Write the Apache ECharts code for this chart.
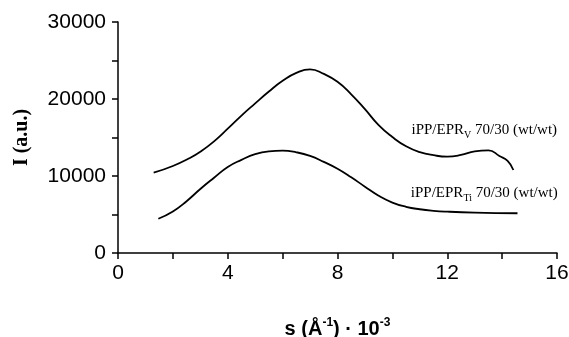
<!DOCTYPE html>
<html>
<head>
<meta charset="utf-8">
<script src="https://cdn.jsdelivr.net/npm/echarts@6/dist/echarts.min.js"></script>
<style>
  html, body { margin: 0; padding: 0; background: #fff; }
  #chart { width: 569px; height: 337px; }
</style>
</head>
<body>
<div id="chart"></div>
<script>
// Scattering profiles I(s) for the two iPP/EPR blends
const sV  = [1.3, 2.0, 2.6, 3.0, 3.5, 4.0, 4.5, 5.0, 5.5, 6.0, 6.5, 7.0, 7.5, 8.0, 8.5, 9.0, 9.5, 10.0, 10.5, 11.0, 11.5, 12.0, 12.5, 13.0, 13.5, 13.9, 14.2, 14.41];
const iV  = [10430, 11300, 12300, 13150, 14500, 16150, 17850, 19430, 20970, 22360, 23400, 23860, 23260, 22230, 20610, 18680, 16600, 15060, 13860, 13100, 12700, 12520, 12730, 13210, 13340, 12600, 11950, 10780];

const sTi = [1.47, 2.0, 2.5, 3.0, 3.5, 4.0, 4.5, 5.0, 5.5, 6.0, 6.5, 7.0, 7.5, 8.0, 8.5, 9.0, 9.5, 10.0, 10.5, 11.0, 11.5, 12.0, 13.0, 14.56];
const iTi = [4450, 5390, 6730, 8310, 9770, 11170, 12100, 12840, 13200, 13290, 13080, 12610, 11830, 10940, 9830, 8610, 7430, 6550, 6000, 5680, 5480, 5370, 5250, 5160];

const labelV  = ['iPP/EPR', 'V', ' 70/30 (wt/wt)'];
const labelTi = ['iPP/EPR', 'Ti', ' 70/30 (wt/wt)'];
const labelVPos  = [13.35, 16100];
const labelTiPos = [13.35, 7900];

const pair = (xs, ys) => xs.map((x, i) => [x, ys[i]]);
const rich = {
  n: { fontFamily: 'Liberation Serif', fontSize: 15, color: '#000', lineHeight: 17, verticalAlign: 'bottom' },
  s: { fontFamily: 'Liberation Serif', fontSize: 10, color: '#000', lineHeight: 10, verticalAlign: 'bottom', padding: [0, 0, -3, 0] }
};
const curveLabel = (parts, pos) => ({
  symbol: 'circle', symbolSize: 0, silent: true,
  data: [{
    coord: pos,
    label: {
      show: true, position: 'inside',
      formatter: '{n|' + parts[0] + '}{s|' + parts[1] + '}{n|' + parts[2] + '}',
      rich: rich
    }
  }]
});

const chart = echarts.init(document.getElementById('chart'));
chart.setOption({
  animation: false,
  backgroundColor: '#fff',
  grid: { left: 118, right: 12, top: 22, bottom: 84, containLabel: false, outerBoundsMode: 'none' },
  xAxis: {
    type: 'value', min: 0, max: 16, interval: 2,
    axisLine: { lineStyle: { color: '#000', width: 1.5 } },
    axisTick: { length: 6, lineStyle: { color: '#000', width: 1.5 } },
    splitLine: { show: false },
    axisLabel: {
      margin: 10, color: '#000', fontFamily: 'Liberation Sans', fontSize: 21,
      formatter: v => (v % 4 === 0 ? String(v) : '')
    },
    name: '{b|s (Å}{p|-1}{b|) · 10}{p|-3}',
    nameLocation: 'middle', nameGap: 64,
    nameTextStyle: {
      rich: {
        b: { fontFamily: 'Liberation Sans', fontWeight: 'bold', fontSize: 20, color: '#000', lineHeight: 22, verticalAlign: 'bottom' },
        p: { fontFamily: 'Liberation Sans', fontWeight: 'bold', fontSize: 12, color: '#000', lineHeight: 22, verticalAlign: 'top' }
      }
    }
  },
  yAxis: {
    type: 'value', min: 0, max: 30000, interval: 5000,
    axisLine: { show: true, lineStyle: { color: '#000', width: 1.5 } },
    axisTick: { show: true, length: 6, lineStyle: { color: '#000', width: 1.5 } },
    splitLine: { show: false },
    axisLabel: {
      margin: 12, color: '#000', fontFamily: 'Liberation Sans', fontSize: 21,
      formatter: v => (v % 10000 === 0 ? String(v) : '')
    },
    name: 'I (a.u.)',
    nameLocation: 'middle', nameRotate: 90, nameGap: 86,
    nameTextStyle: { fontFamily: 'Liberation Serif', fontWeight: 'bold', fontSize: 20, color: '#000' }
  },
  series: [
    {
      type: 'line', data: pair(sV, iV), smooth: 0.5, showSymbol: false,
      lineStyle: { color: '#000', width: 1.8 },
      markPoint: curveLabel(labelV, labelVPos)
    },
    {
      type: 'line', data: pair(sTi, iTi), smooth: 0.5, showSymbol: false,
      lineStyle: { color: '#000', width: 1.8 },
      markPoint: curveLabel(labelTi, labelTiPos)
    }
  ]
});
</script>
</body>
</html>
